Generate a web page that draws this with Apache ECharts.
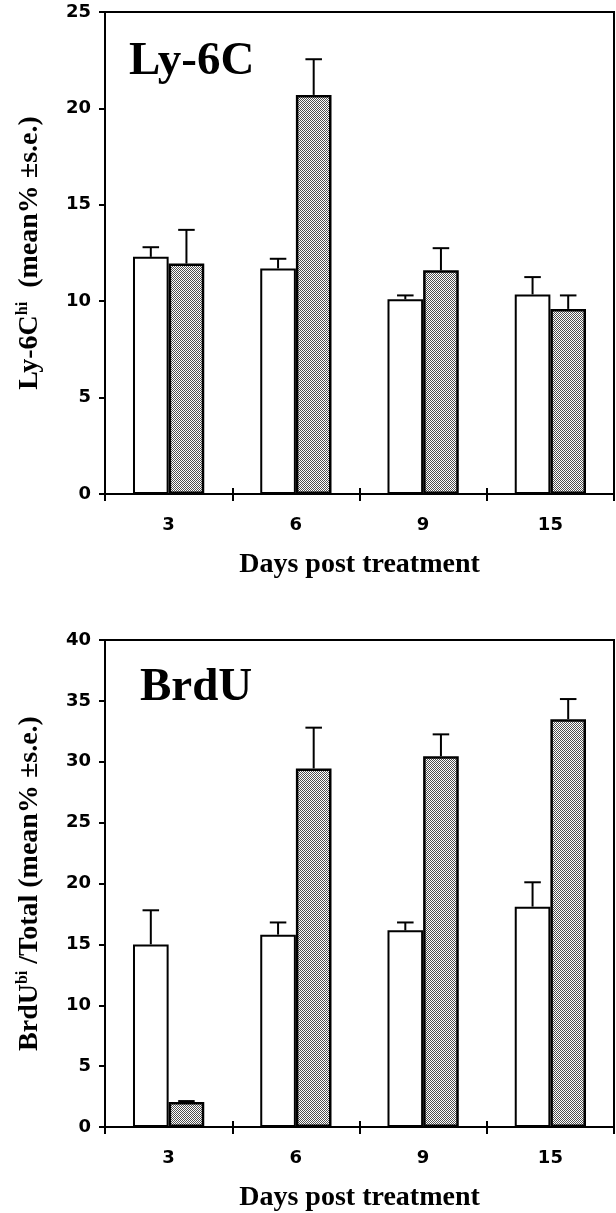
<!DOCTYPE html>
<html>
<head>
<meta charset="utf-8">
<script src="https://cdn.jsdelivr.net/npm/echarts@6/dist/echarts.min.js"></script>
<style>html,body{margin:0;padding:0;background:#fff}#c{width:616px;height:1213px}</style>
</head>
<body>
<div id="c"></div>
<script>
// ---- data ----
const categories = ['3', '6', '9', '15'];
// Ly-6C panel
const lyControl = [12.3, 11.7, 10.1, 10.35];
const lyControlSE = [0.5, 0.5, 0.2, 0.9];
const lyTreated = [11.95, 20.7, 11.6, 9.6];
const lyTreatedSE = [1.75, 1.85, 1.15, 0.7];
// BrdU panel
const brdControl = [15.0, 15.8, 16.15, 18.1];
const brdControlSE = [2.8, 1.0, 0.65, 2.0];
const brdTreated = [2.05, 29.45, 30.45, 33.5];
const brdTreatedSE = [0.08, 3.35, 1.8, 1.65];
const lyAxisMax = 25, lyAxisStep = 5;
const brdAxisMax = 40, brdAxisStep = 5;

// ---- styles ----
const SANS = '"DejaVu Sans", "Liberation Sans", Arial, sans-serif';
const SERIF = '"Liberation Serif", "Times New Roman", serif';

function makePattern() {
  const c = document.createElement('canvas');
  c.width = 4; c.height = 4;
  const g = c.getContext('2d');
  g.fillStyle = '#ffffff'; g.fillRect(0, 0, 4, 4);
  g.fillStyle = '#505050';
  for (let y = 0; y < 4; y++) for (let x = 0; x < 4; x++) if ((x + y) % 2 === 0) g.fillRect(x, y, 1, 1);
  return c;
}
const pattern = { image: makePattern(), repeat: 'repeat' };

function errData(means, se) { return means.map((m, i) => [i, m, m + se[i]]); }

function errSeries(xIdx, yIdx, means, se, side) {
  return {
    type: 'custom', xAxisIndex: xIdx, yAxisIndex: yIdx, z: 5,
    data: errData(means, se),
    encode: { x: 0, y: [1, 2] },
    renderItem: function (params, api) {
      const ci = api.value(0);
      const p0 = api.coord([ci, api.value(1)]);
      const p1 = api.coord([ci, api.value(2)]);
      const band = api.size([1, 0])[0];
      const x = p0[0] + side * band * 0.14;
      const half = band * 0.065;
      const st = { stroke: '#000', lineWidth: 2 };
      return {
        type: 'group', children: [
          { type: 'line', shape: { x1: x, y1: p0[1], x2: x, y2: p1[1] }, style: st },
          { type: 'line', shape: { x1: x - half, y1: p1[1], x2: x + half, y2: p1[1] }, style: st }
        ]
      };
    }
  };
}

function xAxes(gridIndex) {
  return [
    {
      type: 'category', gridIndex: gridIndex, data: categories,
      axisLine: { lineStyle: { color: '#000', width: 2 } },
      axisTick: { show: true, length: 7, lineStyle: { color: '#000', width: 2 } },
      axisLabel: { color: '#000', fontFamily: SANS, fontWeight: 'bold', fontSize: 18, margin: 22 },
      name: 'Days post treatment', nameLocation: 'middle', nameGap: 57,
      nameTextStyle: { color: '#000', fontFamily: SERIF, fontWeight: 'bold', fontSize: 28 }
    },
    {
      type: 'category', gridIndex: gridIndex, data: categories, position: 'bottom',
      axisLine: { show: false },
      axisTick: { show: true, inside: true, length: 6, lineStyle: { color: '#000', width: 2 } },
      axisLabel: { show: false }
    }
  ];
}

function yAxis(gridIndex, max, step, nameRich) {
  return {
    type: 'value', gridIndex: gridIndex, min: 0, max: max, interval: step,
    splitLine: { show: false },
    axisLine: { show: true, lineStyle: { color: '#000', width: 2 } },
    axisTick: { show: true, length: 6, lineStyle: { color: '#000', width: 2 } },
    axisLabel: { color: '#000', fontFamily: SANS, fontWeight: 'bold', fontSize: 18, margin: 14 },
    name: nameRich, nameLocation: 'middle', nameRotate: 90, nameGap: 60,
    nameTextStyle: {
      color: '#000',
      rich: {
        m: { fontFamily: SERIF, fontWeight: 'bold', fontSize: 28, lineHeight: 30, color: '#000' },
        s: { fontFamily: SERIF, fontWeight: 'bold', fontSize: 16, lineHeight: 16, verticalAlign: 'top', color: '#000' }
      }
    }
  };
}

function bars(xIdx, yIdx, vals, treated) {
  return {
    type: 'bar', xAxisIndex: xIdx, yAxisIndex: yIdx, data: vals,
    barWidth: '28%', barGap: '0%',
    itemStyle: treated
      ? { color: pattern, borderColor: '#000', borderWidth: 2.5 }
      : { color: '#fff', borderColor: '#000', borderWidth: 2 },
    emphasis: { disabled: true }
  };
}

const chart = echarts.init(document.getElementById('c'), null, { renderer: 'canvas' });
chart.setOption({
  animation: false,
  backgroundColor: '#fff',
  title: [
    { text: 'Ly-6C', left: 124, top: 33, textStyle: { fontFamily: SERIF, fontWeight: 'bold', fontSize: 47, color: '#000' } },
    { text: 'BrdU', left: 135, top: 659, textStyle: { fontFamily: SERIF, fontWeight: 'bold', fontSize: 47, color: '#000' } }
  ],
  grid: [
    { left: 105, right: 2, top: 12, bottom: 719, show: true, borderColor: '#000', borderWidth: 2, backgroundColor: 'transparent' },
    { left: 105, right: 2, top: 640, bottom: 84, show: true, borderColor: '#000', borderWidth: 2, backgroundColor: 'transparent' }
  ],
  xAxis: xAxes(0).concat(xAxes(1)),
  yAxis: [
    yAxis(0, lyAxisMax, lyAxisStep, '{m|Ly-6C}{s|hi}{m|  (mean% ±s.e.)}'),
    yAxis(1, brdAxisMax, brdAxisStep, '{m|BrdU}{s|bi}{m| /Total (mean% ±s.e.)}')
  ],
  series: [
    bars(0, 0, lyControl, false),
    bars(0, 0, lyTreated, true),
    errSeries(0, 0, lyControl, lyControlSE, -1),
    errSeries(0, 0, lyTreated, lyTreatedSE, 1),
    bars(2, 1, brdControl, false),
    bars(2, 1, brdTreated, true),
    errSeries(2, 1, brdControl, brdControlSE, -1),
    errSeries(2, 1, brdTreated, brdTreatedSE, 1)
  ]
});
</script>
</body>
</html>
